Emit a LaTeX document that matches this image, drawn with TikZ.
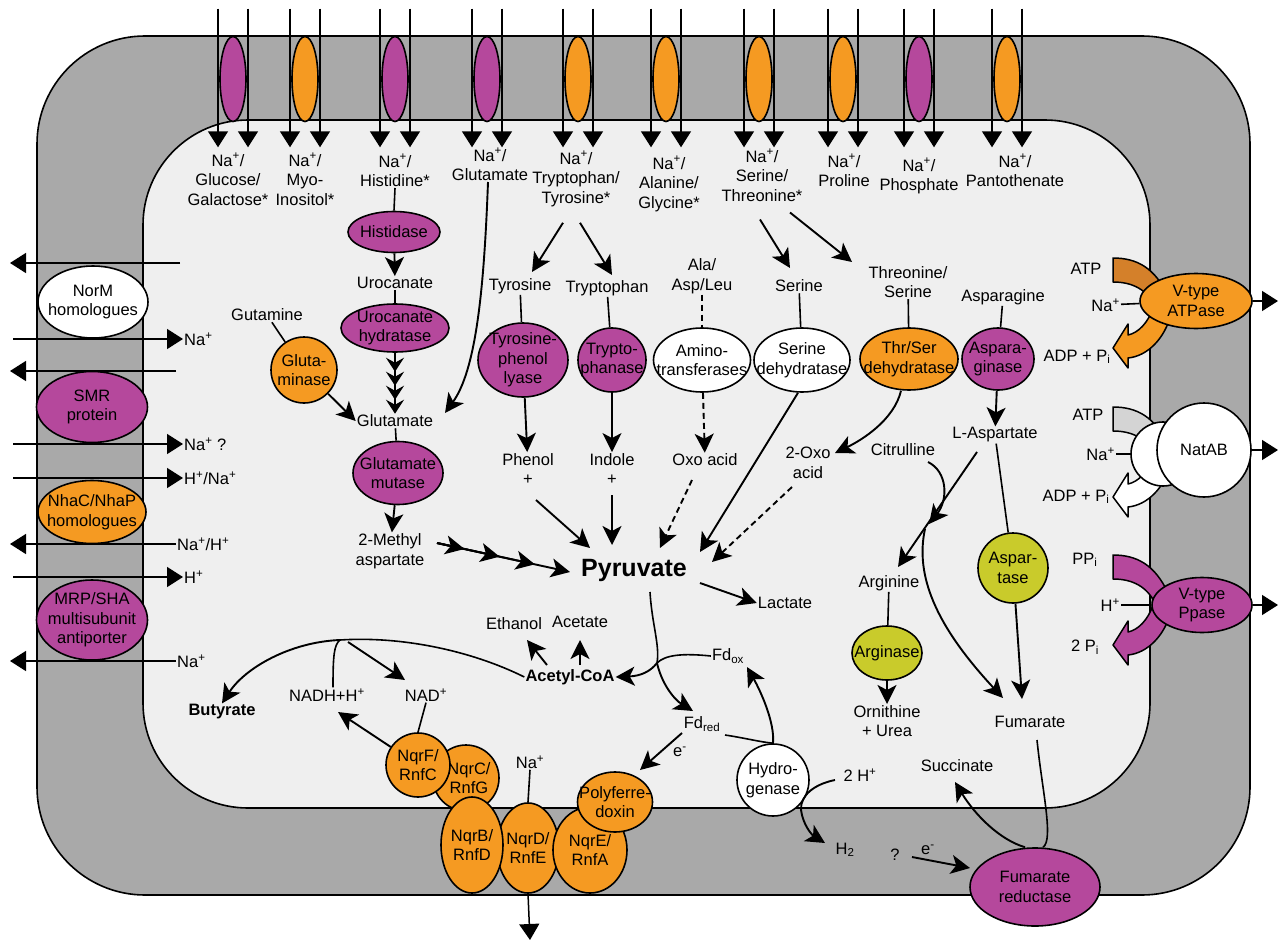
\documentclass[tikz,border=0pt]{standalone}
\usepackage{fontspec}
\setmainfont{Liberation Sans}
\usepackage{tikz}
\usetikzlibrary{arrows.meta,shapes.geometric}
\definecolor{memgrey}{HTML}{A9A9A9}
\definecolor{cellgrey}{HTML}{EFEFEF}
\definecolor{enzmagenta}{HTML}{B5489C}
\definecolor{enzorange}{HTML}{F59A22}
\definecolor{enzlime}{HTML}{C9CB2B}
\definecolor{atpbrown}{HTML}{D4802A}
\definecolor{natgrey}{HTML}{D4D4D4}
\newcommand{\labfont}{\fontsize{16.5}{19.5}\selectfont}
\tikzset{
  % ---- enzymes and carriers -------------------------------------------
  enz/.style={ellipse, draw=black, line width=1.6pt, inner xsep=-20pt,
              inner ysep=-10pt, align=center},
  enzmag/.style={enz, fill=enzmagenta},
  enzora/.style={enz, fill=enzorange},
  enzlim/.style={enz, fill=enzlime},
  enzwht/.style={enz, fill=white},
  metab/.style={align=center, inner sep=1pt},
  % ---- connections ----------------------------------------------------
  flow/.style={-{Stealth[length=19pt,width=19pt,inset=5pt]}, line width=1.9pt},
  chev/.style={-{Stealth[length=14pt,width=18pt,inset=5pt]}, line width=1.8pt},
  dflow/.style={flow, dash pattern=on 6pt off 4pt},
  link/.style={line width=1.6pt},
  dlink/.style={link, dash pattern=on 6pt off 4pt},
  memflow/.style={-{Triangle[length=16pt,width=20pt]}, line width=1.5pt},
  fatarrow/.style={draw=black, line width=1.5pt, line join=round},
}

\begin{document}
\begin{tikzpicture}[x=1pt, y=-1pt, font=\labfont]
\useasboundingbox (0,0) rectangle (1280,942);
\fill[white] (0,0) rectangle (1280,942);

% ---- membrane and cytoplasm -------------------------------------------
\filldraw[fill=memgrey, line width=1.6pt, rounded corners=108pt] (37,36) rectangle (1250,895);
\filldraw[fill=cellgrey, line width=1.6pt, rounded corners=105pt] (143,120) rectangle (1150,808);

% ---- top: Na+ symporters ----------------------------------------------
\foreach \x/\c [count=\i] in {233/enzmagenta, 305/enzorange, 395/enzmagenta,
    487/enzmagenta, 578/enzorange, 666/enzorange, 759/enzorange,
    843/enzorange, 919/enzmagenta, 1007/enzorange} {
  \node[enz, fill=\c, minimum width=26pt, minimum height=85pt] (tp\i) at (\x,79) {};
  \draw[memflow] ([xshift=-15pt,yshift=27pt]tp\i.north) -- ([xshift=-15pt,yshift=-25pt]tp\i.south);
  \draw[memflow] ([xshift=15pt,yshift=27pt]tp\i.north) -- ([xshift=15pt,yshift=-25pt]tp\i.south);
}
\node[metab, anchor=north] (tl1) at (228,152) {Na\textsuperscript{+}/\\Glucose/\\Galactose*};
\node[metab, anchor=north] (tl2) at (305,152) {Na\textsuperscript{+}/\\Myo-\\Inositol*};
\node[metab, anchor=north] (tl3) at (395,153) {Na\textsuperscript{+}/\\Histidine*};
\node[metab, anchor=north] (tl4) at (490,147) {Na\textsuperscript{+}/\\Glutamate};
\node[metab, anchor=north] (tl5) at (576,150) {Na\textsuperscript{+}/\\Tryptophan/\\Tyrosine*};
\node[metab, anchor=north] (tl6) at (669,155) {Na\textsuperscript{+}/\\Alanine/\\Glycine*};
\node[metab, anchor=north] (tl7) at (762,148) {Na\textsuperscript{+}/\\Serine/\\Threonine*};
\node[metab, anchor=north] (tl8) at (844,153) {Na\textsuperscript{+}/\\Proline};
\node[metab, anchor=north] (tl9) at (919,157) {Na\textsuperscript{+}/\\Phosphate};
\node[metab, anchor=north] (tl10) at (1015,153) {Na\textsuperscript{+}/\\Pantothenate};

% ---- left: efflux and antiporters -------------------------------------
\node[enzwht, minimum width=110pt, minimum height=72pt] (norm) at (93,302) {NorM\\homologues};
\node[enzmag, minimum width=111pt, minimum height=71pt] (smr) at (92,407) {SMR\\protein};
\node[enzora, minimum width=108pt, minimum height=63pt] (nha) at (92,512) {NhaC/NhaP\\homologues};
\node[enzmag, minimum width=111pt, minimum height=80pt] (mrp) at (92,620) {MRP/SHA\\multisubunit\\antiporter};

\node[metab, anchor=west] (inNa) at (183,339) {Na\textsuperscript{+}};
\node[metab, anchor=west] (inNaQ) at (183,444) {Na\textsuperscript{+} ?};
\node[metab, anchor=west] (inHNa) at (183,478) {H\textsuperscript{+}/Na\textsuperscript{+}};
\node[metab, anchor=west] (outNaH) at (176,544) {Na\textsuperscript{+}/H\textsuperscript{+}};
\node[metab, anchor=west] (inH) at (183,577) {H\textsuperscript{+}};
\node[metab, anchor=west] (outNa) at (176,661) {Na\textsuperscript{+}};

\coordinate (normA) at (180,263);  \coordinate (normB) at (10,263);
\coordinate (smrA)  at (176,371);  \coordinate (smrB)  at (10,371);
\coordinate (inNaS) at (13,339);   \coordinate (inNaQS) at (13,444);
\coordinate (inHNaS) at (13,478);  \coordinate (inHS) at (13,577);
\coordinate (outNaHT) at (10,544); \coordinate (outNaT) at (10,661);

\draw[memflow] (normA) -- (normB);
\draw[memflow] (inNaS) -- (inNa.west);
\draw[memflow] (smrA) -- (smrB);
\draw[memflow] (inNaQS) -- (inNaQ.west);
\draw[memflow] (inHNaS) -- (inHNa.west);
\draw[memflow] (outNaH.west) -- (outNaHT);
\draw[memflow] (inHS) -- (inH.west);
\draw[memflow] (outNa.west) -- (outNaT);

% ---- right: ATP / PPi driven pumps ------------------------------------
\foreach \y/\cin in {258/atpbrown, 407/natgrey, 555/enzmagenta} {
  \filldraw[fatarrow, fill=\cin] (1113,\y) .. controls (1137,\y) and (1155,\y+10) .. (1168,\y+38)
    -- (1155,\y+48) .. controls (1147,\y+32) and (1133,\y+24) .. (1113,\y+24) -- cycle;
}
\foreach \t/\cout in {348/enzorange, 497/white, 645/enzmagenta} {
  \filldraw[fatarrow, fill=\cout] (1113,\t) -- (1128,\t-24) -- (1128,\t-13)
    .. controls (1138,\t-15) and (1148,\t-25) .. (1153,\t-40) -- (1171,\t-34)
    .. controls (1165,\t-10) and (1148,\t+8) .. (1128,\t+10) -- (1128,\t+20) -- cycle;
}
\node[enzora, minimum width=112pt, minimum height=55pt] (vatp) at (1196,301) {V-type\\ATPase};
\node[enzwht, circle, minimum size=64pt] (natA) at (1163,454) {};
\node[enzwht, circle, minimum size=94pt] (natB) at (1204,450) {NatAB};
\node[enzmag, minimum width=100pt, minimum height=55pt] (ppase) at (1202,605) {V-type\\Ppase};

\node[metab] (atp1) at (1086,269) {ATP};
\node[metab, anchor=east] (naAtp) at (1121,305) {Na\textsuperscript{+}};
\node[metab] (adp1) at (1077,357) {ADP + P\textsubscript{i}};
\node[metab] (atp2) at (1088,415) {ATP};
\node[metab, anchor=east] (naNat) at (1116,454) {Na\textsuperscript{+}};
\node[metab] (adp2) at (1076,497) {ADP + P\textsubscript{i}};
\node[metab] (ppi) at (1085,560) {PP\textsubscript{i}};
\node[metab, anchor=east] (hPp) at (1121,605) {H\textsuperscript{+}};
\node[metab] (pi2) at (1085,647) {2 P\textsubscript{i}};

\coordinate (vatpOut) at (1278,301);
\coordinate (natOut) at (1278,450);
\coordinate (ppOut) at (1278,605);
\draw[link] (naAtp) -- (vatp);
\draw[link] (naNat) -- (natA);
\draw[link] (hPp) -- (ppase);
\draw[memflow] (vatp) -- (vatpOut);
\draw[memflow] (natB) -- (natOut);
\draw[memflow] (ppase) -- (ppOut);

% ---- histidine / glutamate branch -------------------------------------
\node[enzmag, minimum width=92pt, minimum height=41pt] (hisase) at (394,232) {Histidase};
\node[metab] (urocan) at (395,283) {Urocanate};
\node[enzmag, minimum width=108pt, minimum height=48pt] (urohyd) at (395,328) {Urocanate\\hydratase};
\node[metab] (glu) at (395,421) {Glutamate};
\node[enzmag, minimum width=90pt, minimum height=63pt] (glumut) at (398,473) {Glutamate\\mutase};
\node[metab] (mAsp) at (390,551) {2-Methyl\\aspartate};
\node[metab] (gln) at (267,315) {Gutamine};
\node[enzora, circle, minimum size=66pt] (glnase) at (304,370) {Gluta-\\minase};

\draw[link] (tl3.south) -- (hisase.north);
\draw[flow] (hisase) -- (urocan);
\draw[link] (urocan) -- (urohyd);
\foreach \s in {0,14,28,42} \draw[chev, shorten >=\s pt] (urohyd.south) -- (glu.north);
\draw[link] (glu) -- (glumut);
\draw[flow] (glumut) -- (mAsp);
\draw[link] (gln) -- (glnase);
\draw[flow] (glnase) -- (glu.west);
\draw[flow] ([xshift=-2pt]tl4.south) .. controls (484,290) and (476,370) .. ([shift={(50,-8)}]glu.center);

% ---- aromatic / amino acid branch -------------------------------------
\node[metab] (tyr) at (520,286) {Tyrosine};
\node[metab] (trp) at (607,288) {Tryptophan};
\node[metab] (aal) at (702,276) {Ala/\\Asp/Leu};
\node[metab] (ser) at (799,286) {Serine};
\node[metab] (thrser) at (908,282) {Threonine/\\Serine};
\node[metab] (asn) at (1003,297) {Asparagine};

\node[enzmag, minimum width=90pt, minimum height=74pt] (tpl) at (523,360) {Tyrosine-\\phenol\\lyase};
\node[enzmag, minimum width=68pt, minimum height=64pt] (trpase) at (612,360) {Trypto-\\phanase};
\node[enzwht, minimum width=97pt, minimum height=64pt] (amtr) at (702,360) {Amino-\\transferases};
\node[enzwht, minimum width=96pt, minimum height=64pt] (serdh) at (802,360) {Serine\\dehydratase};
\node[enzora, minimum width=98pt, minimum height=62pt] (tsdh) at (909,359) {Thr/Ser\\dehydratase};
\node[enzmag, minimum width=72pt, minimum height=62pt] (asnase) at (998,359) {Aspara-\\ginase};

\node[metab] (phenol) at (528,469) {Phenol\\+};
\node[metab] (indole) at (612,469) {Indole\\+};
\node[metab] (oxo) at (705,460) {Oxo acid};
\node[metab] (oxo2) at (808,463) {2-Oxo\\acid};

\draw[flow] ([shift={(-13,15)}]tl5.south) -- ([shift={(12,-14)}]tyr.center);
\draw[flow] ([shift={(4,15)}]tl5.south) -- ([shift={(5,-13)}]trp.center);
\draw[flow] ([shift={(-2,17)}]tl7.south) -- ([shift={(-9,-18)}]ser.center);
\draw[flow] ([shift={(28,10)}]tl7.south) -- ([shift={(-56,-20)}]thrser.center);

\draw[link] (tyr) -- (tpl);
\draw[link] (trp) -- (trpase);
\draw[dlink] (aal) -- (amtr);
\draw[link] (ser) -- (serdh);
\draw[link] (thrser) -- (tsdh);
\draw[link] (asn) -- (asnase);

\draw[flow] (tpl) -- (phenol);
\draw[flow] (trpase) -- (indole);
\draw[dflow] (amtr) -- (oxo);
\draw[flow] ([xshift=-8pt]tsdh.south) .. controls (894,420) and (862,440) .. ([shift={(27,-10)}]oxo2.center);

% ---- pyruvate hub -----------------------------------------------------
\node[metab, font=\fontsize{25}{30}\selectfont\bfseries] (pyr) at (634,570) {Pyruvate};
\node[metab] (lac) at (785,603) {Lactate};

\draw[flow] ([shift={(8,31)}]phenol.center) -- ([shift={(-44,-22)}]pyr.center);
\draw[flow] ([shift={(0,26)}]indole.center) -- ([shift={(-22,-25)}]pyr.center);
\draw[dflow] ([shift={(-13,20)}]oxo.center) -- ([shift={(26,-22)}]pyr.center);
\draw[flow] ([xshift=-4pt]serdh.south) -- ([shift={(66,-18)}]pyr.center);
\draw[dflow] ([shift={(-16,24)}]oxo2.center) -- ([shift={(78,-8)}]pyr.center);
\foreach \s in {0,36,72,108}
  \draw[flow, shorten >=\s pt] ([shift={(47,-8)}]mAsp.center) -- ([shift={(-64,2)}]pyr.center);
\draw[flow] ([shift={(66,13)}]pyr.center) -- (lac.west);

% ---- acetyl-CoA, ferredoxin and Rnf/Nqr -------------------------------
\node[metab, font=\labfont\bfseries] (accoa) at (570,677) {Acetyl-CoA};
\node[metab] (etoh) at (514,624) {Ethanol};
\node[metab] (acet) at (580,622) {Acetate};
\node[metab, font=\labfont\bfseries] (but) at (222,712) {Butyrate};
\node[metab] (nadh) at (327,695) {NADH+H\textsuperscript{+}};
\node[metab] (nad) at (426,695) {NAD\textsuperscript{+}};
\node[metab] (fdox) at (728,656) {Fd\textsubscript{ox}};
\node[metab] (fdred) at (702,724) {Fd\textsubscript{red}};
\node[metab] (eminus) at (680,752) {e\textsuperscript{-}};
\node[metab] (naNqr) at (530,762) {Na\textsuperscript{+}};

\node[enzora, circle, minimum size=66pt] (nqrC) at (466,778) {\hspace*{6pt}NqrC/\\\hspace*{6pt}RnfG};
\node[enzora, minimum width=62pt, minimum height=90pt] (nqrD) at (528,848) {NqrD/\\RnfE};
\node[enzora, minimum width=62pt, minimum height=96pt] (nqrB) at (472,845) {NqrB/\\RnfD};
\node[enzora, minimum width=74pt, minimum height=86pt] (nqrE) at (590,850) {NqrE/\\RnfA};
\node[enzora, circle, minimum size=64pt] (nqrF) at (418,765) {NqrF/\\RnfC};
\node[enzora, minimum width=75pt, minimum height=60pt] (pfd) at (615,802) {Polyferre-\\doxin};
\node[enzwht, circle, minimum size=72pt] (hyd) at (773,780) {Hydro-\\genase};

\coordinate (pjct) at (657,663);
\coordinate (bjct) at (340,640);
\coordinate (naOut) at (530,940);

\draw[link] ([shift={(16,22)}]pyr.center) .. controls (652,625) and (660,645) .. (pjct);
\draw[link] (fdox.west) .. controls (682,653) and (665,655) .. (pjct);
\draw[flow] (pjct) .. controls (650,672) and (640,676) .. (accoa.east);
\draw[flow] (pjct) .. controls (662,685) and (675,700) .. ([shift={(-9,-13)}]fdred.center);
\draw[flow] ([shift={(-23,-12)}]accoa.center) -- ([shift={(13,16)}]etoh.center);
\draw[flow] ([shift={(10,-12)}]accoa.center) -- ([shift={(0,18)}]acet.center);

\draw[link] (accoa.west) .. controls (470,650) and (400,636) .. (bjct);
\draw[flow] (bjct) .. controls (290,642) and (245,668) .. (but.north);
\draw[link] (bjct) .. controls (334,645) and (333,655) .. ([xshift=6pt]nadh.north);
\draw[flow] ([shift={(8,2)}]bjct) -- ([shift={(-21,-15)}]nad.center);
\draw[link] (nad.south) -- (nqrF.north);
\draw[flow] (nqrF) -- ([shift={(11,17)}]nadh.center);

\draw[link] (naNqr.south) -- (nqrD.north);
\draw[memflow] (nqrD.south) -- (naOut);
\draw[flow] ([shift={(-20,9)}]fdred.center) -- ([shift={(25,-32)}]pfd.center);
\draw[link] ([shift={(23,11)}]fdred.center) .. controls (745,738) and (760,742) .. (hyd.north);
\draw[flow] (hyd.north) .. controls (775,722) and (760,690) .. ([shift={(19,11)}]fdox.center);

% ---- hydrogen and fumarate respiration --------------------------------
\node[metab] (h2p) at (860,775) {2 H\textsuperscript{+}};
\node[metab] (h2) at (845,850) {H\textsubscript{2}};
\node[metab] (qm) at (895,855) {?};
\node[metab] (em2) at (928,850) {e\textsuperscript{-}};
\node[enzmag, minimum width=130pt, minimum height=78pt] (frd) at (1035,887) {Fumarate\\reductase};
\node[metab] (fum) at (1030,722) {Fumarate};
\node[metab] (succ) at (957,766) {Succinate};

\draw[flow] ([shift={(-25,5)}]h2p.center) .. controls (815,784) and (800,795) .. (801,810)
  .. controls (803,825) and (812,835) .. ([shift={(-20,-7)}]h2.center);
\draw[flow] ([shift={(-16,7)}]em2.center) -- ([shift={(-65,-19)}]frd.center);
\draw[link] ([shift={(7,18)}]fum.center) .. controls (1042,790) and (1054,840) .. ([xshift=8pt]frd.north);
\draw[flow] ([xshift=-10pt]frd.north) .. controls (1000,840) and (975,815) .. ([shift={(-2,16)}]succ.center);

% ---- aspartate / arginine branch --------------------------------------
\node[metab] (lasp) at (995,435) {L-Aspartate};
\node[metab] (citr) at (903,450) {Citrulline};
\node[metab] (arg) at (889,583) {Arginine};
\node[enzlim, circle, minimum size=70pt] (aspase) at (1013,568) {Aspar-\\tase};
\node[enzlim, minimum width=70pt, minimum height=54pt] (argase) at (887,653) {Arginase};
\node[metab] (orn) at (887,721) {Ornithine\\+ Urea};

\coordinate (cjn) at (929,524);
\draw[flow] (asnase) -- (lasp);
\draw[flow] ([shift={(-18,17)}]lasp.center) -- ([shift={(9,-16)}]arg.center);
\draw[flow] ([shift={(25,12)}]citr.center) .. controls (948,472) and (948,500) .. (cjn);
\draw[flow] ([shift={(-4,5)}]cjn) .. controls (915,575) and (935,625) .. ([shift={(-27,-24)}]fum.center);
\draw[link] (lasp) -- (aspase);
\draw[flow] (aspase) -- ([shift={(-8,-23)}]fum.center);
\draw[link] (arg) -- (argase);
\draw[flow] (argase) -- (orn);

\end{tikzpicture}
\end{document}
